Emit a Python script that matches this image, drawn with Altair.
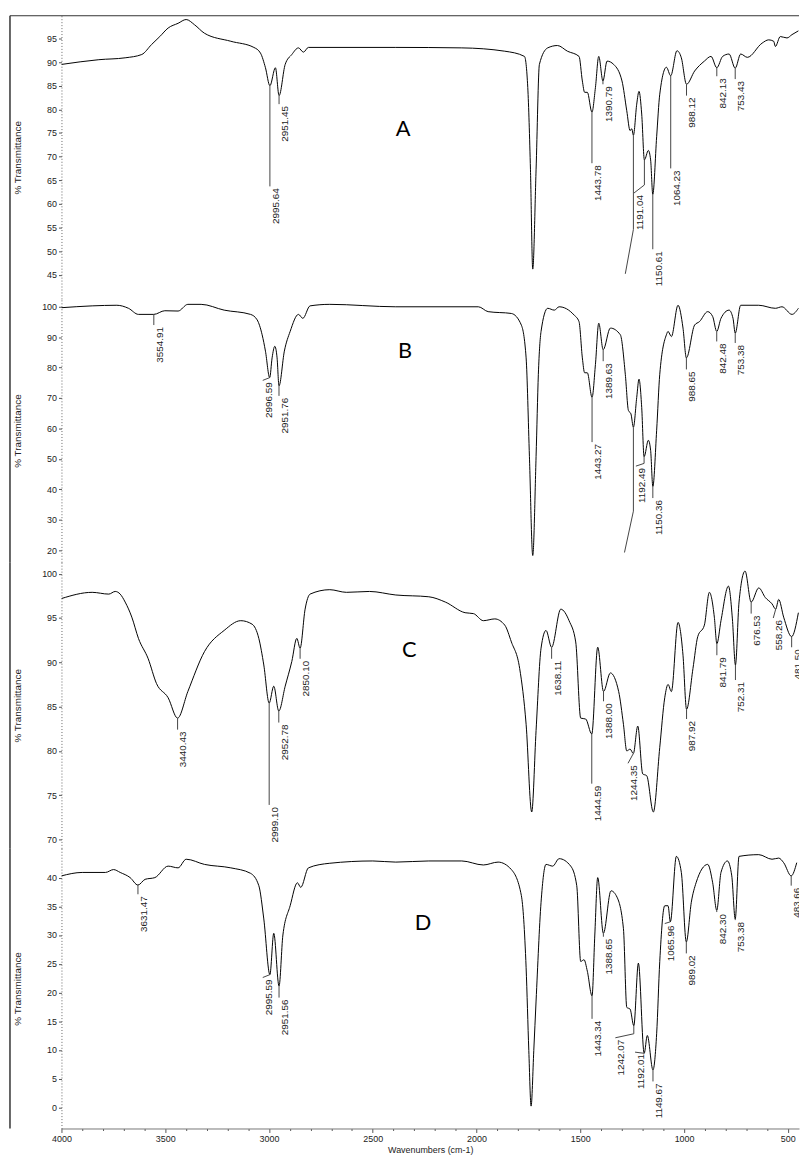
import altair as alt
import pandas as pd

# ---------------- Spectrum A ----------------
a_wn = [4000, 3820, 3693, 3613, 3566, 3526, 3486, 3438, 3399, 3359, 3311, 3184, 3073, 3041, 3017,
        2995.64, 2969, 2951.45, 2922, 2890, 2858, 2834, 2810, 2389, 2071, 1864, 1769, 1753, 1740,
        1729, 1713, 1697, 1657, 1610, 1562, 1506, 1490, 1479, 1466, 1443.78, 1427, 1411, 1390.79,
        1371, 1339, 1299, 1276, 1260, 1252, 1244, 1228, 1217, 1204, 1191.04, 1172, 1161, 1150.61,
        1132, 1117, 1085, 1064.23, 1034, 1013, 988.12, 949, 902, 870, 842.13, 814, 783, 753.43,
        727, 695, 624, 592, 568, 560, 536, 504, 480, 449]
a_t = [89.5, 90.5, 90.9, 91.6, 93.7, 95.4, 97.2, 98.2, 99.0, 97.9, 96.1, 94.4, 93.1, 91.9, 88.8,
       85.0, 88.8, 82.9, 89.5, 91.6, 93.0, 92.1, 93.1, 93.1, 93.0, 92.3, 91.2, 84.6, 67.2,
       46.2, 67.2, 89.5, 93.0, 93.5, 92.3, 91.2, 86.0, 83.6, 83.6, 79.4, 84.6, 91.2, 86.0,
       90.2, 89.5, 86.0, 79.7, 75.5, 75.9, 74.5, 81.1, 83.8, 79.0, 69.3, 71.3, 69.3, 62.0,
       74.2, 83.2, 88.9, 87.1, 92.4, 90.9, 85.3, 88.1, 90.2, 91.2, 88.8, 91.2, 91.7, 88.7,
       91.7, 91.0, 94.0, 94.7, 94.4, 93.3, 95.4, 95.1, 95.8, 96.6]
a_lab = ["2995.64", "2951.45", "1443.78", "1390.79", "", "1191.04", "1150.61", "1064.23",
         "988.12", "842.13", "753.43"]
a_pk = [2995.64, 2951.45, 1443.78, 1390.79, 1244, 1191.04, 1150.61, 1064.23, 988.12, 842.13, 753.43]
a_pk_t = [85.0, 82.9, 79.4, 86.0, 74.5, 69.3, 62.0, 87.1, 85.3, 88.8, 88.7]
a_knee_t = [63.7, 81.1, 68.6, 85.3, 54.6, 64.0, 50.4, 67.5, 82.9, 87.0, 86.4]
a_end_wn = [2995.64, 2951.45, 1443.78, 1390.79, 1283, 1241, 1150.61, 1064.23, 988.12, 842.13, 753.43]
a_end_t = [63.7, 81.1, 68.6, 85.3, 45.2, 62.3, 50.4, 67.5, 82.9, 87.0, 86.4]

# ---------------- Spectrum B ----------------
b_wn = [4000, 3852, 3733, 3677, 3629, 3554.91, 3502, 3438, 3391, 3327, 3216, 3089, 3057, 3033,
        3017, 2996.59, 2985, 2972, 2961, 2951.76, 2926, 2898, 2858, 2837, 2802, 2707, 2389, 1991,
        1944, 1832, 1784, 1761, 1745, 1729, 1713, 1702, 1689, 1657, 1625, 1602, 1530, 1506, 1490,
        1479, 1466, 1443.27, 1427, 1411, 1389.63, 1355, 1307, 1283, 1268, 1256, 1244, 1228, 1217,
        1204, 1192.49, 1172, 1161, 1150.36, 1132, 1117, 1085, 1077, 1061, 1029, 1005, 988.65, 949,
        926, 886, 862, 842.48, 822, 783, 764, 753.38, 727, 640, 560, 528, 480, 449]
b_t = [99.7, 100.3, 100.5, 99.5, 97.5, 97.5, 98.7, 98.6, 100.8, 100.8, 98.9, 97.5, 95.7, 90.8,
       85.4, 76.7, 83.2, 87.0, 83.2, 74.0, 85.4, 91.9, 97.5, 96.2, 100.3, 100.8, 100.0, 100.0,
       98.4, 97.8, 94.0, 83.2, 50.7, 18.2, 50.7, 77.8, 91.9, 99.5, 98.9, 100.0, 97.3, 95.1, 83.2,
       78.3, 78.3, 70.2, 81.0, 94.6, 85.9, 93.0, 90.8, 77.8, 65.9, 64.8, 60.4, 70.2, 76.2,
       66.9, 50.7, 56.1, 52.8, 40.9, 59.4, 77.8, 90.8, 91.9, 90.2, 100.5, 93.0, 83.2, 94.0,
       95.1, 98.4, 96.8, 91.9, 96.2, 98.9, 96.2, 91.3, 100.5, 100.5, 99.5, 100.0, 97.5, 99.5]
b_lab = ["3554.91", "2996.59", "2951.76", "1443.27", "1389.63", "", "1192.49", "1150.36",
         "988.65", "842.48", "753.38"]
b_pk = [3554.91, 2996.59, 2951.76, 1443.27, 1389.63, 1244, 1192.49, 1150.36, 988.65, 842.48, 753.38]
b_pk_t = [97.5, 76.7, 74.0, 70.2, 85.9, 60.4, 50.7, 40.9, 83.2, 91.9, 91.3]
b_knee_t = [94.0, 76.7, 70.7, 55.5, 82.1, 32.8, 48.5, 37.1, 79.4, 88.6, 88.1]
b_end_wn = [3554.91, 3030, 2951.76, 1443.27, 1389.63, 1287, 1232, 1150.36, 988.65, 842.48, 753.38]
b_end_t = [94.0, 75.8, 70.7, 55.5, 82.1, 19.2, 47.6, 37.1, 79.4, 88.6, 88.1]

# ---------------- Spectrum C ----------------
c_wn = [4000, 3852, 3772, 3741, 3717, 3693, 3661, 3629, 3582, 3542, 3486, 3440.43, 3391, 3311,
        3216, 3136, 3081, 3049, 3025, 2999.10, 2977, 2952.78, 2922, 2890, 2866, 2850.10, 2826,
        2802, 2707, 2627, 2516, 2389, 2230, 2150, 2055, 2015, 1967, 1912, 1864, 1832, 1792, 1761,
        1734, 1713, 1689, 1665, 1638.11, 1594, 1554, 1522, 1498, 1474, 1444.59, 1416, 1388.00,
        1355, 1315, 1292, 1276, 1260, 1244.35, 1223, 1199, 1180, 1148, 1117, 1093, 1077, 1061,
        1029, 1005, 987.92, 957, 934, 902, 878, 854, 841.79, 822, 786, 767, 752.31, 735, 706,
        676.53, 640, 608, 576, 558.26, 544, 520, 481.50, 449]
c_t = [97.2, 97.9, 97.7, 98.0, 97.7, 96.8, 95.1, 92.7, 90.4, 87.6, 86.0, 83.7, 86.7, 91.2,
       93.6, 94.7, 94.3, 92.7, 89.7, 85.4, 87.3, 84.5, 87.3, 90.1, 92.7, 91.6, 96.0,
       97.7, 98.2, 97.9, 98.0, 97.6, 97.4, 96.8, 95.6, 95.5, 94.7, 94.9, 94.2, 92.3, 89.3, 83.0,
       73.1, 82.3, 91.6, 93.6, 91.7, 96.0, 94.7, 92.3, 83.7, 83.6, 81.9, 91.7, 86.7,
       88.8, 86.7, 83.0, 80.0, 80.2, 79.7, 82.8, 77.4, 77.2, 73.1, 80.4, 86.0, 87.5, 86.7,
       94.5, 90.8, 84.7, 89.3, 92.9, 94.2, 97.9, 95.1, 92.1, 94.7, 98.6, 94.9, 89.7, 96.8, 100.3,
       96.8, 98.4, 97.3, 96.6, 96.0, 97.1, 95.1, 92.9, 95.6]
c_lab = ["3440.43", "2999.10", "2952.78", "2850.10", "1638.11", "1444.59", "1388.00", "1244.35",
         "987.92", "841.79", "752.31", "676.53", "558.26", "481.50"]
c_pk = [3440.43, 2999.10, 2952.78, 2850.10, 1638.11, 1444.59, 1388.00, 1244.35, 987.92, 841.79,
        752.31, 676.53, 558.26, 481.50]
c_pk_t = [83.7, 85.4, 84.5, 91.6, 91.7, 81.9, 86.7, 79.7, 84.7, 92.1, 89.7, 96.8, 96.0, 92.9]
c_knee_t = [82.4, 73.9, 83.2, 90.4, 90.4, 76.3, 85.6, 79.7, 83.6, 90.8, 88.0, 95.5, 96.0, 91.7]
c_end_wn = [3440.43, 2999.10, 2952.78, 2850.10, 1638.11, 1444.59, 1388.00, 1270, 987.92, 841.79,
            752.31, 676.53, 570, 481.50]
c_end_t = [82.4, 73.9, 83.2, 90.4, 90.4, 76.3, 85.6, 78.6, 83.6, 90.8, 88.0, 95.5, 95.0, 91.7]

# ---------------- Spectrum D ----------------
d_wn = [4000, 3900, 3788, 3749, 3717, 3669, 3631.47, 3597, 3550, 3486, 3438, 3399, 3311, 3184,
        3089, 3049, 3025, 2995.59, 2977, 2951.56, 2933, 2898, 2863, 2847, 2810, 2707, 2500, 2389,
        2230, 2071, 1967, 1896, 1832, 1784, 1761, 1748, 1737, 1724, 1713, 1689, 1665, 1633, 1602,
        1546, 1517, 1498, 1482, 1466, 1443.34, 1430, 1416, 1388.65, 1352, 1323, 1292, 1276, 1260,
        1242.07, 1220, 1192.01, 1177, 1149.67, 1132, 1117, 1093, 1077, 1065.96, 1037, 1013,
        989.02, 965, 942, 886, 862, 842.30, 822, 791, 770, 753.38, 735, 640, 576, 544, 520,
        483.66, 457]
d_t = [40.3, 40.9, 40.9, 41.4, 40.9, 40.0, 38.7, 39.7, 40.0, 42.0, 41.7, 43.2, 42.3, 41.7,
       40.75, 38.6, 32.8, 23.1, 30.3, 21.1, 30.0, 35.1, 39.1, 38.3, 41.7, 42.5, 42.9, 42.7,
       42.9, 42.9, 42.2, 42.7, 41.4, 36.9, 24.3, 9.9, 0.2, 9.9, 18.5, 35.7, 42.3, 42.0, 43.3,
       42.0, 38.6, 25.4, 25.7, 23.7, 19.4, 30.0, 40.0, 30.3, 37.7, 36.6, 31.1, 17.4, 17.1,
       14.2, 25.1, 9.4, 12.5, 6.5, 12.8, 25.4, 35.1, 35.1, 32.3, 43.7, 40.9,
       28.8, 35.7, 39.1, 42.3, 39.1, 34.3, 40.9, 42.9, 40.3, 32.8, 43.7, 44.0, 43.2, 43.4, 42.6,
       40.3, 42.6]
d_lab = ["3631.47", "2995.59", "2951.56", "1443.34", "1388.65", "1242.07", "1192.01", "1149.67",
         "1065.96", "989.02", "842.30", "753.38", "483.66"]
d_pk = [3631.47, 2995.59, 2951.56, 1443.34, 1388.65, 1242.07, 1192.01, 1149.67, 1065.96, 989.02,
        842.30, 753.38, 483.66]
d_pk_t = [38.7, 23.1, 21.1, 19.4, 30.3, 14.2, 9.4, 6.5, 32.3, 28.8, 34.3, 32.8, 40.3]
d_knee_t = [37.1, 23.1, 19.1, 15.4, 29.7, 12.8, 9.4, 4.5, 32.3, 26.8, 34.0, 32.6, 38.6]
d_end_wn = [3631.47, 3030, 2951.56, 1443.34, 1388.65, 1331, 1236, 1149.67, 1093, 989.02,
            842.30, 753.38, 483.66]
d_end_t = [37.1, 22.6, 19.1, 15.4, 29.7, 12.1, 9.6, 4.5, 32.0, 26.8, 34.0, 32.6, 38.6]

# panel letters and their positions (wavenumber, transmittance)
letters = ["A", "B", "C", "D"]
letter_wn = [2354, 2345, 2324, 2258]
letter_t = [75.9, 85.6, 91.4, 32.0]

# y domains / ticks
a_dom, a_ticks = [39.9, 99.8], [45, 50, 55, 60, 65, 70, 75, 80, 85, 90, 95]
b_dom, b_ticks = [16.0, 102.6], [20, 30, 40, 50, 60, 70, 80, 90, 100]
c_dom, c_ticks = [69.0, 101.3], [70, 75, 80, 85, 90, 95, 100]
d_dom, d_ticks = [-3.7, 45.1], [0, 5, 10, 15, 20, 25, 30, 35, 40]
x_ticks = list(range(4000, 499, -100))

W = 745
FONT = "Liberation Sans"
TXT = "#222222"
x_scale = alt.Scale(domain=[4000, 446], nice=False, zero=False)

x_axis_bottom = alt.Axis(
    values=x_ticks, format="d",
    labelExpr="datum.value % 500 === 0 ? datum.label : ''",
    labelOverlap=False, labelFlush=False,
    tickSize={"condition": {"test": "datum.value % 500 === 0", "value": 4}, "value": 2},
    tickColor="#555555", domainColor="#777777", labelPadding=2,
    labelFont=FONT, labelFontSize=9, labelColor=TXT, grid=False,
    title="Wavenumbers (cm-1)", titleFont=FONT, titleFontSize=9, titleFontWeight="normal",
    titleColor=TXT, titlePadding=2,
)


def y_axis(vals, h):
    return alt.Axis(
        values=vals, format="d", tickSize=3, tickColor="#555555", labelPadding=2,
        labelFont=FONT, labelFontSize=9, labelColor=TXT, domainColor="#666666",
        domainDash=[1, 2], grid=False, title="% Transmittance", titleFont=FONT,
        titleFontSize=10, titleFontWeight="normal", titleColor=TXT, titleX=-44, titleY=h / 2,
        titleAngle=270, titleBaseline="middle", titleAlign="center",
    )


def panel(wn, t, lab, pk, pk_t, knee_t, end_wn, end_t, idx, ydom, yvals, h, xaxis=None, top=False):
    ys = alt.Scale(domain=ydom, nice=False, zero=False)
    yax = y_axis(yvals, h)

    def X(f):
        return alt.X(f, type="quantitative", scale=x_scale, axis=xaxis)

    def Y(f):
        return alt.Y(f, type="quantitative", scale=ys, axis=yax)

    spec = pd.DataFrame({"wn": wn, "t": t})
    ann = pd.DataFrame({"lab": lab, "pk": pk, "pk_t": pk_t, "knee_t": knee_t,
                        "end_wn": end_wn, "end_t": end_t})
    let = pd.DataFrame({"wn": [letter_wn[idx]], "t": [letter_t[idx]], "s": [letters[idx]]})

    line = alt.Chart(spec).mark_line(color="black", strokeWidth=1, interpolate="monotone",
                                     clip=True).encode(x=X("wn"), y=Y("t"))
    seg1 = alt.Chart(ann).mark_rule(color="#444444", strokeWidth=1, clip=True).encode(
        x=X("pk"), y=Y("pk_t"), y2="knee_t")
    seg2 = alt.Chart(ann).mark_rule(color="#444444", strokeWidth=1, clip=True).encode(
        x=X("pk"), x2="end_wn", y=Y("knee_t"), y2="end_t")
    txt = alt.Chart(ann).mark_text(angle=270, align="right", baseline="top", font=FONT,
                                   fontSize=10, color=TXT, clip=True, xOffset=1,
                                   yOffset=2).encode(x=X("end_wn"), y=Y("end_t"), text="lab:N")
    letter = alt.Chart(let).mark_text(font="Lato", fontSize=22, color="black").encode(
        x=X("wn"), y=Y("t"), text="s:N")
    one = pd.DataFrame({"k": [0]})
    left = alt.Chart(one).mark_rule(color="#333333", strokeWidth=1.5).encode(
        x=alt.value(-52), y=alt.value(0), y2=alt.value(h))
    layers = [line, seg1, seg2, txt, letter, left]
    if top:
        layers.append(alt.Chart(one).mark_rule(color="#333333", strokeWidth=1).encode(
            x=alt.value(-52), x2=alt.value(W), y=alt.value(0)))
    return alt.layer(*layers).properties(width=W, height=h)


pA = panel(a_wn, a_t, a_lab, a_pk, a_pk_t, a_knee_t, a_end_wn, a_end_t, 0, a_dom, a_ticks, 286, top=True)
pB = panel(b_wn, b_t, b_lab, b_pk, b_pk_t, b_knee_t, b_end_wn, b_end_t, 1, b_dom, b_ticks, 266)
pC = panel(c_wn, c_t, c_lab, c_pk, c_pk_t, c_knee_t, c_end_wn, c_end_t, 2, c_dom, c_ticks, 289)
pD = panel(d_wn, d_t, d_lab, d_pk, d_pk_t, d_knee_t, d_end_wn, d_end_t, 3, d_dom, d_ticks, 283,
           xaxis=x_axis_bottom)

chart = alt.vconcat(pA, pB, pC, pD, spacing=0, bounds="flush").properties(
    padding={"left": 1, "top": 1, "right": 0, "bottom": 0}
).configure_view(strokeWidth=0)

chart.save("out.html", embed_options={"renderer": "svg", "actions": False})
